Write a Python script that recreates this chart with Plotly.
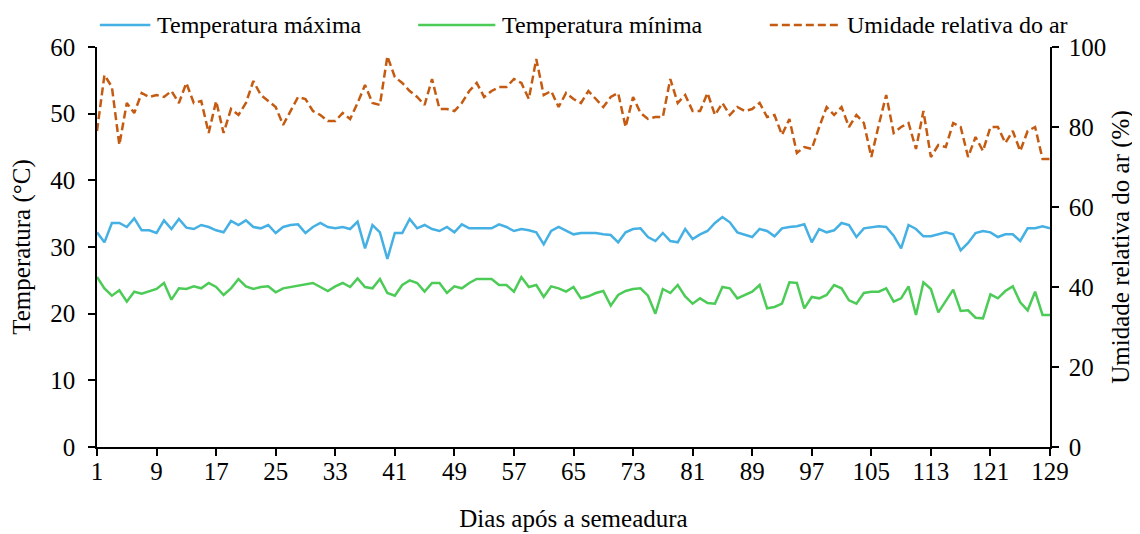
import plotly.graph_objects as go

days = list(range(1, 130))

temp_max = [32.2, 30.7, 33.6, 33.6, 33.0, 34.3, 32.5, 32.5, 32.1, 34.0,
            32.7, 34.2, 32.9, 32.7, 33.3, 33.0, 32.5, 32.2, 33.9, 33.3,
            34.0, 33.0, 32.8, 33.3, 32.1, 33.0, 33.3, 33.4, 32.1, 33.0,
            33.6, 33.0, 32.8, 33.0, 32.7, 33.8, 29.8, 33.3, 32.2, 28.2,
            32.1, 32.1, 34.2, 32.8, 33.3, 32.7, 32.4, 33.0, 32.2, 33.4,
            32.8, 32.8, 32.8, 32.8, 33.4, 33.0, 32.4, 32.7, 32.5, 32.2,
            30.4, 32.4, 33.0, 32.4, 31.9, 32.1, 32.1, 32.1, 31.9, 31.8,
            30.7, 32.2, 32.7, 32.8, 31.5, 30.9, 32.1, 30.9, 30.7, 32.7,
            31.2, 31.9, 32.4, 33.6, 34.5, 33.7, 32.2, 31.9, 31.5, 32.7,
            32.4, 31.6, 32.8, 33.0, 33.1, 33.4, 30.7, 32.7, 32.2, 32.5,
            33.6, 33.3, 31.5, 32.8, 33.0, 33.1, 33.0, 31.7, 29.8, 33.3,
            32.7, 31.6, 31.6, 31.9, 32.2, 31.9, 29.5, 30.6, 32.1, 32.4,
            32.2, 31.5, 31.9, 31.9, 30.9, 32.8, 32.8, 33.1, 32.8]

temp_min = [25.5, 23.8, 22.7, 23.5, 21.8, 23.3, 23.0, 23.4, 23.7, 24.6,
            22.1, 23.8, 23.7, 24.1, 23.8, 24.6, 24.0, 22.8, 23.8, 25.2,
            24.1, 23.7, 24.0, 24.1, 23.2, 23.8, 24.0, 24.2, 24.4, 24.6,
            24.0, 23.4, 24.1, 24.6, 24.0, 25.3, 24.0, 23.8, 25.2, 23.1,
            22.7, 24.3, 25.0, 24.6, 23.3, 24.6, 24.6, 23.1, 24.1, 23.8,
            24.6, 25.2, 25.2, 25.2, 24.3, 24.3, 23.3, 25.5, 24.0, 24.3,
            22.5, 24.1, 23.8, 23.3, 24.0, 22.3, 22.6, 23.1, 23.4, 21.2,
            22.8, 23.4, 23.7, 23.8, 22.7, 20.0, 23.7, 23.1, 24.3, 22.6,
            21.5, 22.3, 21.6, 21.5, 24.0, 23.8, 22.3, 22.8, 23.3, 24.3,
            20.8, 21.0, 21.5, 24.7, 24.6, 20.8, 22.5, 22.3, 22.8, 24.3,
            23.8, 22.0, 21.5, 23.1, 23.3, 23.3, 23.8, 21.8, 22.3, 24.1,
            19.8, 24.7, 23.7, 20.2, 22.0, 23.6, 20.4, 20.5, 19.4, 19.3,
            22.9, 22.3, 23.4, 24.1, 21.7, 20.5, 23.3, 19.8, 19.8]

umidade = [79.0, 93.0, 90.0, 75.5, 86.0, 83.5, 88.5, 87.5, 88.0, 87.5,
           89.0, 86.0, 91.0, 86.0, 86.5, 78.5, 86.5, 78.5, 84.5, 83.0,
           86.0, 91.5, 88.0, 86.5, 85.0, 80.5, 84.0, 87.5, 87.0, 84.0,
           83.0, 81.5, 81.5, 83.5, 82.0, 86.0, 90.5, 86.0, 85.5, 97.7,
           92.5, 91.0, 89.0, 87.5, 85.5, 92.0, 84.5, 84.5, 84.0, 86.0,
           89.0, 91.0, 87.5, 89.0, 90.0, 90.0, 92.0, 91.0, 87.0, 97.0,
           88.0, 89.0, 85.0, 88.5, 87.0, 86.0, 89.0, 87.0, 85.0, 87.5,
           88.5, 80.0, 87.5, 83.5, 82.0, 82.5, 82.5, 92.0, 86.0, 88.0,
           84.0, 84.0, 88.5, 83.0, 86.0, 83.0, 85.0, 84.0, 84.5, 86.0,
           82.5, 83.0, 78.0, 82.0, 73.5, 75.0, 74.5, 80.0, 85.0, 83.0,
           85.0, 80.0, 83.0, 81.0, 72.5, 80.5, 88.0, 78.5, 80.0, 81.0,
           74.5, 84.0, 72.5, 75.5, 75.0, 81.0, 80.0, 72.5, 77.5, 74.0,
           80.0, 80.0, 76.0, 79.0, 74.0, 79.0, 80.0, 72.0, 72.0]

x_ticks = list(range(1, 130, 8))

series_names = ["Temperatura máxima", "Temperatura mínima", "Umidade relativa do ar"]
series_colors = ["#45B0E3", "#4CCB57", "#C55A11"]
series_dash = ["solid", "solid", "8px,4px"]

FONT = "Liberation Serif"
TICK_SIZE = 25
TITLE_SIZE = 25
LEGEND_SIZE = 24

fig = go.Figure()
fig.add_trace(go.Scatter(x=days, y=temp_max, mode="lines", name=series_names[0],
                         line=dict(color=series_colors[0], width=2.5, dash=series_dash[0])))
fig.add_trace(go.Scatter(x=days, y=temp_min, mode="lines", name=series_names[1],
                         line=dict(color=series_colors[1], width=2.5, dash=series_dash[1])))
fig.add_trace(go.Scatter(x=days, y=umidade, mode="lines", name=series_names[2],
                         line=dict(color=series_colors[2], width=2.5, dash=series_dash[2]),
                         yaxis="y2"))

# Legend drawn in paper coordinates (sample line + label) to match the original layout
legend_line_x = [(0.003, 0.056), (0.337, 0.418), (0.706, 0.780)]
legend_y = 1.055
for (x0, x1), name, color, dash in zip(legend_line_x, series_names, series_colors, series_dash):
    fig.add_shape(type="line", xref="paper", yref="paper", x0=x0, x1=x1,
                  y0=legend_y, y1=legend_y, line=dict(color=color, width=2.5, dash=dash))
    fig.add_annotation(xref="paper", yref="paper", x=x1 + 0.005, y=legend_y,
                       xanchor="left", yanchor="middle", showarrow=False, text=name,
                       font=dict(family=FONT, size=LEGEND_SIZE, color="black"))

axis_common = dict(showline=True, linecolor="black", linewidth=1.5,
                   ticks="outside", ticklen=7, tickcolor="black", tickwidth=1.5,
                   showgrid=False, zeroline=False, automargin=False,
                   tickfont=dict(family=FONT, size=TICK_SIZE))

fig.update_layout(
    width=1140, height=534,
    paper_bgcolor="white", plot_bgcolor="white",
    margin=dict(l=89, r=98, t=39, b=95, autoexpand=False),
    font=dict(family=FONT, size=TICK_SIZE, color="black"),
    showlegend=False,
    xaxis=dict(range=[1, 129], tickmode="array", tickvals=x_ticks, ticklabelstandoff=-6,
               title=dict(text="Dias após a semeadura", font=dict(family=FONT, size=TITLE_SIZE), standoff=26),
               **axis_common),
    yaxis=dict(range=[0, 60], dtick=10, ticklabelstandoff=8,
               title=dict(text="Temperatura (°C)", font=dict(family=FONT, size=TITLE_SIZE), standoff=15),
               **axis_common),
    yaxis2=dict(range=[0, 100], dtick=20, overlaying="y", side="right", ticklabelstandoff=5,
                title=dict(text="Umidade relativa do ar (%)", font=dict(family=FONT, size=TITLE_SIZE), standoff=6),
                **axis_common),
)

fig.write_html("out.html")
